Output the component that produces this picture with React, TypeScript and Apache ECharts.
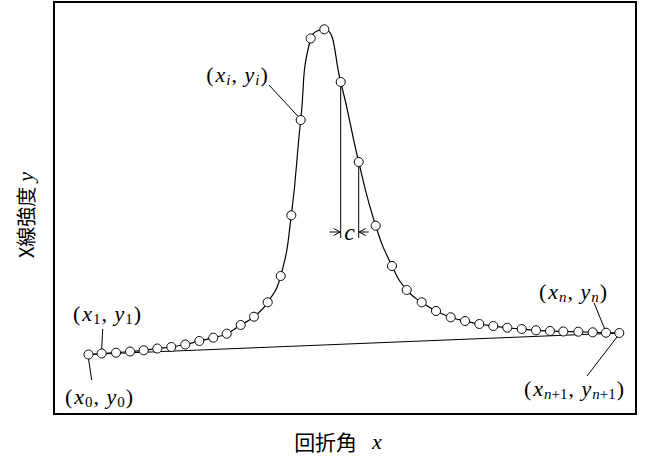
import React, { useEffect, useRef } from 'react';
import * as echarts from 'echarts';

// diffraction angle (arbitrary units) and X-ray intensity (arbitrary units)
const angles = [34.5, 47.7, 62, 76, 89.7, 103.3, 117.3, 131.3, 145.3, 159.3, 172.7, 186.7, 200, 213.7, 226.7, 237.3, 246.7, 256.7, 270.3, 286.7, 304.7, 321.7, 338, 352.7, 367.7, 382, 396.7, 411, 425.3, 439.3, 453.3, 467.7, 482, 496, 509.3, 524.3, 538.7, 552, 565.3];
const intensities = [59.5, 60.5, 61.3, 62.5, 63.7, 65.5, 67, 69.5, 73, 76.3, 80.3, 89, 97.3, 111.7, 138, 198.7, 294, 375.5, 384.7, 332, 252, 188.3, 148, 124, 111.7, 103, 96.7, 93, 90, 88, 86.3, 85, 83.7, 83, 82.5, 82.3, 81.7, 81.3, 81];

const xAxisTitle = '回折角';
const xAxisVar = 'x';
const yAxisTitle = 'X線強度';
const yAxisVar = 'y';

// point labels: index of the point and subscript
const labelIndex = [16, 1, 0, 37, 38];
const labelSubs = ['i', '1', '0', 'n', 'n+1'];
const widthLabel = 'c';
const widthPoints = [19, 20];

function subToken(s: string) {
  return s
    .split(/(\d+|\+)/)
    .filter((t) => t.length > 0)
    .map((t) => (/^[a-z]+$/.test(t) ? `{si|${t}}` : `{sn|${t}}`))
    .join('');
}

function pointLabel(s: string) {
  return `{p|(}{v|x}${subToken(s)}{p|,}{sp| }{v|y}${subToken(s)}{p|)}`;
}

const serif = "'Times New Roman', 'Liberation Serif', serif";
const cjk = "'Noto Sans CJK JP', 'Noto Sans', sans-serif";

const richLabel = {
  p: { fontFamily: serif, fontSize: 22, lineHeight: 26, color: '#000', padding: [0, 1, 0, 1] },
  sp: { fontFamily: serif, fontSize: 22, lineHeight: 26, color: '#000' },
  v: { fontFamily: serif, fontStyle: 'italic', fontSize: 22, lineHeight: 26, color: '#000', padding: [0, 1, 0, 1] },
  si: { fontFamily: serif, fontStyle: 'italic', fontSize: 15, lineHeight: 12, verticalAlign: 'bottom', color: '#000' },
  sn: { fontFamily: serif, fontSize: 15, lineHeight: 12, verticalAlign: 'bottom', color: '#000' },
};

// label placement relative to its point (pixels): label centre, leader start, leader end
const labelOffsets = [
  [-63.7, -46, -31.7, -35, -3, -4],
  [5.3, -40.5, 1, -24.5, 0, -4.5],
  [10.5, 41.5, 3.2, 25.5, 0, 4.5],
  [-33, -41.7, -12, -30, -1.5, -4.2],
  [-45.3, 55, -32.3, 43, -2.3, 4],
];

export default function App() {
  const ref = useRef<HTMLDivElement>(null);
  useEffect(() => {
    const chart = echarts.init(ref.current!, undefined, { renderer: 'svg' });
    const pts = angles.map((a, i) => [a, intensities[i]]);
    const last = pts.length - 1;
    chart.setOption({
      animation: false,
      backgroundColor: '#fff',
      grid: {
        left: 54,
        top: 2,
        right: 21,
        bottom: 55,
        show: true,
        borderColor: '#000',
        borderWidth: 2,
        backgroundColor: 'transparent',
      },
      xAxis: {
        type: 'value',
        min: 0,
        max: 582,
        axisLine: { show: false },
        axisTick: { show: false },
        axisLabel: { show: false },
        splitLine: { show: false },
        name: `{t|${xAxisTitle}}{v|${xAxisVar}}`,
        nameLocation: 'middle',
        nameGap: 14,
        nameTextStyle: {
          padding: [0, 14, 0, 0],
          rich: {
            t: { fontFamily: cjk, fontSize: 21, color: '#000', lineHeight: 26 },
            v: { fontFamily: serif, fontStyle: 'italic', fontSize: 22, color: '#000', lineHeight: 26, padding: [0, 0, 0, 15] },
          },
        },
      },
      yAxis: {
        type: 'value',
        min: 0,
        max: 412,
        axisLine: { show: false },
        axisTick: { show: false },
        axisLabel: { show: false },
        splitLine: { show: false },
        name: `{t|${yAxisTitle}}{v|${yAxisVar}}`,
        nameLocation: 'middle',
        nameGap: 16,
        nameTextStyle: {
          padding: [0, 14, 0, 0],
          rich: {
            t: { fontFamily: cjk, fontSize: 20, color: '#000', lineHeight: 26 },
            v: { fontFamily: serif, fontStyle: 'italic', fontSize: 22, color: '#000', lineHeight: 26, padding: [0, 0, 0, 5] },
          },
        },
      },
      series: [
        {
          type: 'line',
          data: [pts[0], pts[last]],
          symbol: 'none',
          lineStyle: { color: '#000', width: 1 },
          silent: true,
          z: 1,
        },
        {
          type: 'line',
          data: pts,
          smooth: 0.5,
          symbol: 'circle',
          symbolSize: 9,
          itemStyle: { color: '#fff', borderColor: '#000', borderWidth: 1 },
          lineStyle: { color: '#000', width: 1.2 },
          z: 3,
        },
      ],
    });

    const P = (i: number) => chart.convertToPixel({ gridIndex: 0 }, pts[i]) as number[];
    const graphics: any[] = [];
    labelIndex.forEach((idx, k) => {
      const [px, py] = P(idx);
      const o = labelOffsets[k];
      graphics.push({
        type: 'text',
        x: px + o[0],
        y: py + o[1],
        z: 10,
        style: { text: pointLabel(labelSubs[k]), rich: richLabel, align: 'center', verticalAlign: 'middle' },
      });
      graphics.push({
        type: 'line',
        z: 10,
        shape: { x1: px + o[2], y1: py + o[3], x2: px + o[4], y2: py + o[5] },
        style: { stroke: '#000', lineWidth: 1 },
      });
    });

    // peak width "c"
    const [ax, ay] = P(widthPoints[0]);
    const [bx, by] = P(widthPoints[1]);
    const bottomY = 238;
    const arrowY = 232;
    graphics.push(
      { type: 'line', z: 2, shape: { x1: ax, y1: ay + 4.5, x2: ax, y2: bottomY }, style: { stroke: '#000', lineWidth: 1 } },
      { type: 'line', z: 2, shape: { x1: bx, y1: by + 4.5, x2: bx, y2: bottomY }, style: { stroke: '#000', lineWidth: 1 } },
      { type: 'line', z: 2, shape: { x1: ax - 11, y1: arrowY, x2: ax, y2: arrowY }, style: { stroke: '#000', lineWidth: 1 } },
      { type: 'polyline', z: 2, shape: { points: [[ax - 7, arrowY - 3.5], [ax - 0.5, arrowY], [ax - 7, arrowY + 3.5]] }, style: { stroke: '#000', lineWidth: 1, fill: 'none' } },
      { type: 'line', z: 2, shape: { x1: bx + 10, y1: arrowY, x2: bx, y2: arrowY }, style: { stroke: '#000', lineWidth: 1 } },
      { type: 'polyline', z: 2, shape: { points: [[bx + 7, arrowY - 3.5], [bx + 0.5, arrowY], [bx + 7, arrowY + 3.5]] }, style: { stroke: '#000', lineWidth: 1, fill: 'none' } },
      {
        type: 'text',
        z: 2,
        x: (ax + bx) / 2,
        y: arrowY,
        style: { text: widthLabel, fontFamily: serif, fontStyle: 'italic', fontSize: 24, fill: '#000', align: 'center', verticalAlign: 'middle' },
      }
    );
    chart.setOption({ graphic: graphics });
    return () => chart.dispose();
  }, []);
  return (
    <div
      ref={ref}
      style={{ position: 'fixed', left: 0, top: 0, width: 657, height: 469, background: '#fff' }}
    />
  );
}
